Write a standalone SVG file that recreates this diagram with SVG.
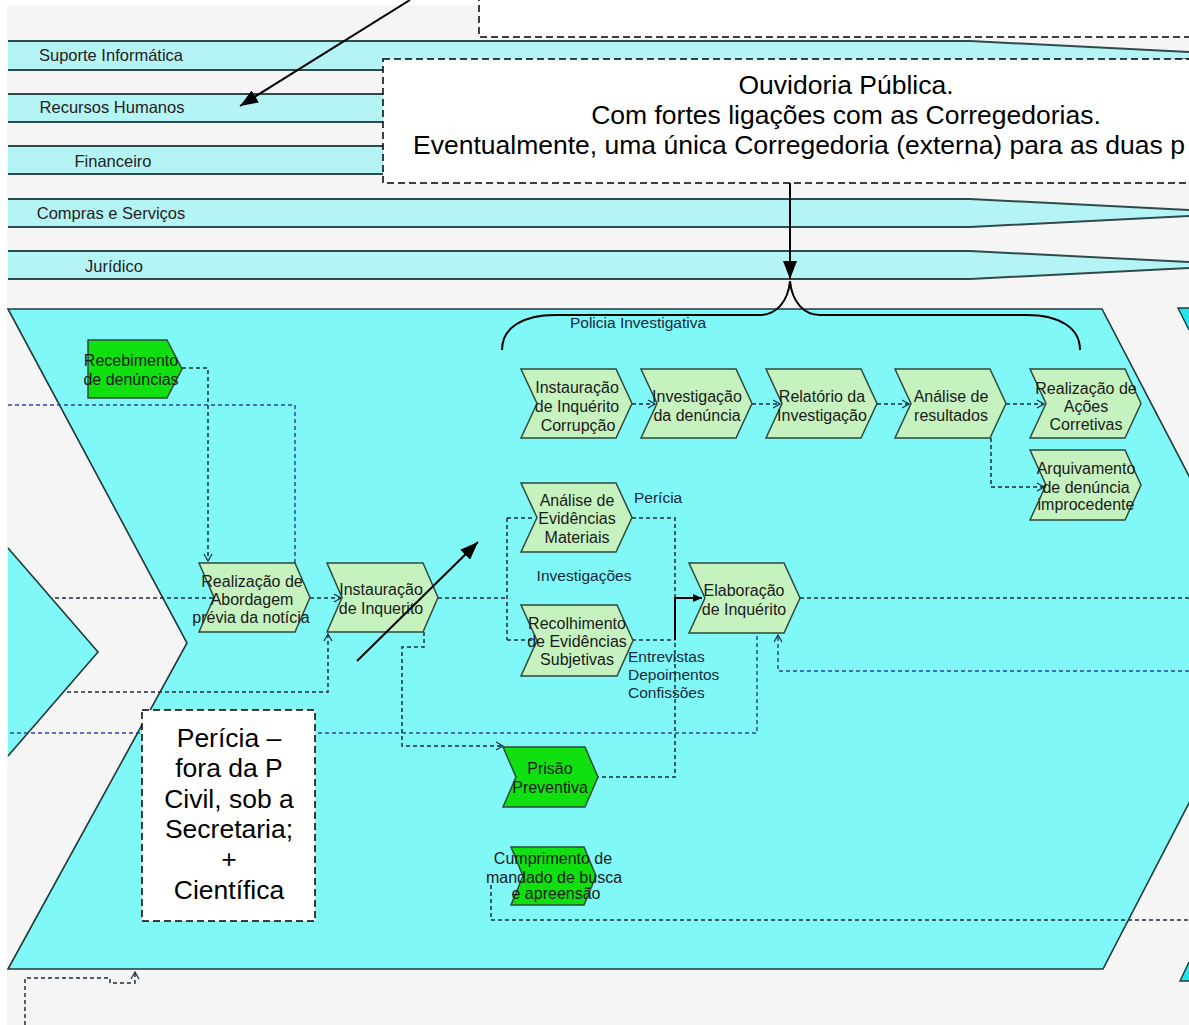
<svg xmlns="http://www.w3.org/2000/svg" width="1189" height="1025" viewBox="0 0 1189 1025">
  <defs>
    <marker id="bigArrow" markerUnits="userSpaceOnUse" markerWidth="20" markerHeight="14" refX="18" refY="7" orient="auto">
      <path d="M0,0 L18,7 L0,14 z" fill="#000"/>
    </marker>
    <marker id="openArrow" markerUnits="userSpaceOnUse" markerWidth="10" markerHeight="10" refX="8" refY="5" orient="auto">
      <path d="M1,1 L8,5 L1,9" fill="none" stroke="#1c2c3c" stroke-width="1.2"/>
    </marker>
    <marker id="solidArrow" markerUnits="userSpaceOnUse" markerWidth="10" markerHeight="10" refX="9" refY="5" orient="auto">
      <path d="M0,1 L9,5 L0,9 z" fill="#000"/>
    </marker>
  </defs>
  <style>
    .lane { fill: #b5f4f4; }
    .laneLine { fill: none; stroke: #2f4a4a; stroke-width: 2; }
    .laneText { font-family: "Liberation Sans", Arial, sans-serif; font-size: 16.5px; fill: #222; text-anchor: middle; }
    .pool { fill: #80f8f8; stroke: #203838; stroke-width: 1.6; }
    .nextPool { fill: #22e6ee; stroke: #203838; stroke-width: 1.4; }
    .fn { fill: #c6f2c0; stroke: #2d4a3a; stroke-width: 1.5; }
    .ev { fill: #10e010; stroke: #2d4a3a; stroke-width: 1.5; }
    .lbl { font-family: "Liberation Sans", Arial, sans-serif; font-size: 16px; fill: #1a1a1a; text-anchor: middle; }
    .free { font-family: "Liberation Sans", Arial, sans-serif; font-size: 15.5px; fill: #1a2a3a; }
    .flow { fill: none; stroke: #1e2d3c; stroke-width: 1.5; stroke-dasharray: 4 3; }
    .flowBlue { fill: none; stroke: #2d44a0; stroke-width: 1.5; stroke-dasharray: 4 3; }
    .solid { fill: none; stroke: #000; stroke-width: 2; }
    .note { fill: #fff; stroke: #000; stroke-width: 1.5; stroke-dasharray: 7 4; }
    .noteText { font-family: "Liberation Sans", Arial, sans-serif; font-size: 26.5px; fill: #000; text-anchor: middle; }
    .pointer { fill: none; stroke: #000; stroke-width: 2; }
  </style>

  <!-- canvas -->
  <rect x="0" y="0" width="1189" height="1025" fill="#ffffff"/>
  <rect x="7" y="5" width="1182" height="1020" fill="#f5f5f5"/>

  <!-- support lanes -->
  <g id="lane-suporte">
    <polygon class="lane" points="8,41 970,41 1189,52 1189,59 970,70 8,70"/>
    <path class="laneLine" d="M8,41 H970 L1189,52 M8,70 H970 L1189,59"/>
    <text class="laneText" x="111" y="61">Suporte  Informática</text>
  </g>
  <g id="lane-rh">
    <polygon class="lane" points="8,94 970,94 1189,105 1189,111 970,122 8,122"/>
    <path class="laneLine" d="M8,94 H970 L1189,105 M8,122 H970 L1189,111"/>
    <text class="laneText" x="112" y="113">Recursos Humanos</text>
  </g>
  <g id="lane-financeiro">
    <polygon class="lane" points="8,146 970,146 1189,157 1189,163 970,174 8,174"/>
    <path class="laneLine" d="M8,146 H970 L1189,157 M8,174 H970 L1189,163"/>
    <text class="laneText" x="113" y="167">Financeiro</text>
  </g>
  <g id="lane-compras">
    <polygon class="lane" points="8,199 970,199 1189,210 1189,216 970,227 8,227"/>
    <path class="laneLine" d="M8,199 H970 L1189,210 M8,227 H970 L1189,216"/>
    <text class="laneText" x="111" y="219">Compras e Serviços</text>
  </g>
  <g id="lane-juridico">
    <polygon class="lane" points="8,251 970,251 1189,262 1189,268 970,279 8,279"/>
    <path class="laneLine" d="M8,251 H970 L1189,262 M8,279 H970 L1189,268"/>
    <text class="laneText" x="114" y="272">Jurídico</text>
  </g>

  <!-- top note (mostly outside the frame) -->
  <g id="note-top">
    <rect class="note" x="479" y="-20" width="740" height="57"/>
  </g>

  <!-- ouvidoria note -->
  <g id="note-ouvidoria">
    <rect class="note" x="383" y="59" width="840" height="124"/>
    <text class="noteText" x="846" y="94">Ouvidoria Pública.</text>
    <text class="noteText" x="846" y="124">Com fortes ligações com as Corregedorias.</text>
    <text class="noteText" x="413" y="154" style="text-anchor:start">Eventualmente, uma única Corregedoria (externa) para as duas p</text>
  </g>

  <!-- value chain pools -->
  <g id="pool-previous">
    <path class="pool" d="M8,548 L98,652 L8,756"/>
  </g>
  <g id="pool-main">
    <polygon class="pool" points="8,309 1102,309 1274,639 1103,969 8,969 187,643"/>
  </g>
  <g id="pool-next">
    <path class="nextPool" d="M1189,330 L1178,308 H1189"/>
    <path class="nextPool" d="M1189,962 L1180,981 H1189"/>
  </g>

  <!-- connectors -->
  <g id="connectors">
    <path class="flow" d="M182,368 H208 V561" marker-end="url(#openArrow)"/>
    <path class="flowBlue" d="M8,405 H295 V563"/>
    <path class="flow" d="M55,598 H213"/>
    <path class="flow" d="M310,598 H341" marker-end="url(#openArrow)"/>
    <path class="flow" d="M438,598 H507 M507,518 V640 M507,518 H535 M507,640 H535"/>
    <path class="flow" d="M632,518 H675 V777 H598"/>
    <path class="flow" d="M632,640 H675"/>
    <path class="solid" d="M675,640 V598 H702" marker-end="url(#solidArrow)"/>
    <path class="flow" d="M800,598 H1189"/>
    <path class="flowBlue" d="M10,733 H757 V633"/>
    <path class="flowBlue" d="M1189,671 H778 V635" marker-end="url(#openArrow)"/>
    <path class="flow" d="M424,632 V647 H402 V746 H503" marker-end="url(#openArrow)"/>
    <path class="flow" d="M67,692 H328 V634" marker-end="url(#openArrow)"/>
    <path class="flow" d="M991,438 V487 H1044" marker-end="url(#openArrow)"/>
    <path class="flow" d="M632,404 H655" marker-end="url(#openArrow)"/>
    <path class="flow" d="M752,404 H780" marker-end="url(#openArrow)"/>
    <path class="flow" d="M877,404 H909" marker-end="url(#openArrow)"/>
    <path class="flow" d="M1006,404 H1044" marker-end="url(#openArrow)"/>
    <path class="flow" d="M491,885 V920 H1189"/>
    <path class="flow" d="M25,1025 V978 H110 V983 H135 V972" marker-end="url(#openArrow)"/>
  </g>

  <!-- process steps -->
  <g id="fn-recebimento">
    <polygon class="ev" points="88,340 167,340 182,369 167,398 88,398"/>
    <text class="lbl" x="131" y="366">Recebimento</text>
    <text class="lbl" x="131" y="385">de denúncias</text>
  </g>
  <g id="fn-abordagem">
    <polygon class="fn" points="199,563 295,563 310,597.5 295,632 199,632 214,597.5"/>
    <text class="lbl" x="252" y="587">Realização de</text>
    <text class="lbl" x="252" y="605">Abordagem</text>
    <text class="lbl" x="251" y="623">prévia da notícia</text>
  </g>
  <g id="fn-instauracao">
    <polygon class="fn" points="327,563 423,563 438,597.5 423,632 327,632 342,597.5"/>
    <text class="lbl" x="381" y="595">Instauração</text>
    <text class="lbl" x="381" y="614">de Inquerito</text>
  </g>
  <g id="fn-instauracao-corrupcao">
    <polygon class="fn" points="521,369 616,369 632,403.5 616,438 521,438 537,403.5"/>
    <text class="lbl" x="577" y="393">Instauração</text>
    <text class="lbl" x="577" y="412">de Inquérito</text>
    <text class="lbl" x="578" y="431">Corrupção</text>
  </g>
  <g id="fn-investigacao">
    <polygon class="fn" points="641,369 736,369 752,403.5 736,438 641,438 657,403.5"/>
    <text class="lbl" x="697" y="402">Investigação</text>
    <text class="lbl" x="697" y="421">da denúncia</text>
  </g>
  <g id="fn-relatorio">
    <polygon class="fn" points="766,369 861,369 877,403.5 861,438 766,438 782,403.5"/>
    <text class="lbl" x="822" y="402">Relatório da</text>
    <text class="lbl" x="822" y="421">Investigação</text>
  </g>
  <g id="fn-analise-resultados">
    <polygon class="fn" points="895,369 990,369 1006,403.5 990,438 895,438 911,403.5"/>
    <text class="lbl" x="951" y="402">Análise de</text>
    <text class="lbl" x="951" y="421">resultados</text>
  </g>
  <g id="fn-acoes-corretivas">
    <polygon class="fn" points="1030,369 1125,369 1141,403.5 1125,438 1030,438 1046,403.5"/>
    <text class="lbl" x="1086" y="394">Realização de</text>
    <text class="lbl" x="1086" y="412">Ações</text>
    <text class="lbl" x="1086" y="430">Corretivas</text>
  </g>
  <g id="fn-arquivamento">
    <polygon class="fn" points="1030,450 1125,450 1141,485 1125,520 1030,520 1046,485"/>
    <text class="lbl" x="1086" y="474">Arquivamento</text>
    <text class="lbl" x="1086" y="493">de denúncia</text>
    <text class="lbl" x="1086" y="510">improcedente</text>
  </g>
  <g id="fn-evidencias-materiais">
    <polygon class="fn" points="521,483 616,483 632,517.5 616,552 521,552 537,517.5"/>
    <text class="lbl" x="577" y="506">Análise de</text>
    <text class="lbl" x="577" y="524">Evidências</text>
    <text class="lbl" x="577" y="543">Materiais</text>
  </g>
  <g id="fn-evidencias-subjetivas">
    <polygon class="fn" points="521,605 617,605 633,640.5 617,676 521,676 537,640.5"/>
    <text class="lbl" x="577" y="629">Recolhimento</text>
    <text class="lbl" x="577" y="647">de Evidências</text>
    <text class="lbl" x="577" y="665">Subjetivas</text>
  </g>
  <g id="fn-elaboracao">
    <polygon class="fn" points="689,563 784,563 800,598 784,633 689,633 705,598"/>
    <text class="lbl" x="744" y="596">Elaboração</text>
    <text class="lbl" x="744" y="615">de Inquérito</text>
  </g>
  <g id="fn-prisao">
    <polygon class="ev" points="503,747 585,747 598,777 585,807 503,807 516,777"/>
    <text class="lbl" x="550" y="774">Prisão</text>
    <text class="lbl" x="550" y="793">Preventiva</text>
  </g>
  <g id="fn-cumprimento">
    <polygon class="ev" points="511,847 584,847 596,876 584,905 511,905 523,876"/>
    <text class="lbl" x="553" y="864">Cumprimento de</text>
    <text class="lbl" x="554" y="883">mandado de busca</text>
    <text class="lbl" x="556" y="899">e apreensão</text>
  </g>

  <!-- free labels inside the pool -->
  <g id="labels">
    <text class="free" x="638" y="328" text-anchor="middle">Policia Investigativa</text>
    <text class="free" x="634" y="503">Perícia</text>
    <text class="free" x="584" y="581" text-anchor="middle">Investigações</text>
    <text class="free" x="628" y="662">Entrevistas</text>
    <text class="free" x="628" y="680">Depoimentos</text>
    <text class="free" x="628" y="698">Confissões</text>
  </g>

  <!-- brace grouping the investigative police steps -->
  <g id="brace">
    <path class="pointer" d="M502,350 C502,328 522,315 556,315 L760,315 C776,315 788,302 790,281 C792,302 804,315 820,315 L1026,315 C1060,315 1080,328 1080,350"/>
  </g>

  <!-- pericia note -->
  <g id="note-pericia">
    <rect class="note" x="142" y="710" width="173" height="211"/>
    <text class="noteText" x="229" y="747">Perícia –</text>
    <text class="noteText" x="229" y="777">fora da P</text>
    <text class="noteText" x="229" y="808">Civil, sob a</text>
    <text class="noteText" x="229" y="838">Secretaria;</text>
    <text class="noteText" x="229" y="868">+</text>
    <text class="noteText" x="229" y="899">Científica</text>
  </g>

  <!-- pointer arrows from the notes -->
  <g id="pointers">
    <line class="pointer" x1="410" y1="0" x2="240" y2="106" marker-end="url(#bigArrow)"/>
    <line class="pointer" x1="790" y1="183" x2="790" y2="279" marker-end="url(#bigArrow)"/>
    <line class="pointer" x1="357" y1="661" x2="478" y2="542" marker-end="url(#bigArrow)"/>
  </g>
</svg>
